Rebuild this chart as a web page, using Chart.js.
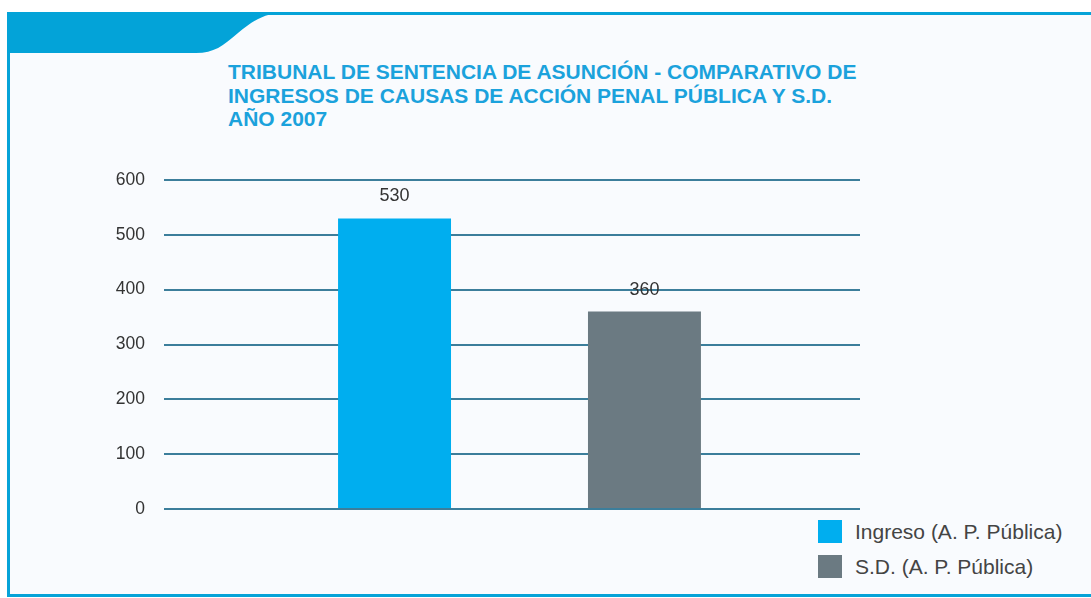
<!DOCTYPE html>
<html>
<head>
<meta charset="utf-8">
<script src="https://cdn.jsdelivr.net/npm/chart.js@4"></script>
<style>
  html, body { margin: 0; padding: 0; background: #fff; }
  #wrap { position: relative; width: 1091px; height: 598px; overflow: hidden; }
  #frame { position: absolute; left: 0; top: 0; }
  #title {
    position: absolute; left: 228px; top: 60px;
    font-family: "Liberation Sans", Arial, sans-serif; font-weight: bold;
    font-size: 21px; line-height: 23.5px; color: #1ba2dc;
  }
  #legend {
    position: absolute; left: 818px; top: 520px;
    font-family: "Liberation Sans", Arial, sans-serif; font-size: 21px; color: #444;
  }
  #legend .item { height: 35px; display: flex; align-items: flex-start; }
  #legend .box { width: 24px; height: 23px; margin-right: 13px; }
  #legend .txt { line-height: 24px; }
  canvas { position: absolute; left: 0; top: 0; }
</style>
</head>
<body>
<div id="wrap">
  <svg id="frame" width="1091" height="598">
    <rect x="8.5" y="13.5" width="1100" height="582" fill="#f9fbfe" stroke="#06a3d8" stroke-width="3"/>
    <path d="M7,12 H292 C264,12 253,21 238,33 C223,46 214,53 196,53 H7 Z" fill="#03a3d8"/>
  </svg>
  <div id="title">TRIBUNAL DE SENTENCIA DE ASUNCIÓN - COMPARATIVO DE<br>INGRESOS DE CAUSAS DE ACCIÓN PENAL PÚBLICA Y S.D.<br>AÑO 2007</div>
  <div id="legend"></div>
  <canvas id="chart" width="1091" height="598"></canvas>
</div>
<script>
// data
const categories = [''];
const seriesNames = ['Ingreso (A. P. Pública)', 'S.D. (A. P. Pública)'];
const ingresoValues = [530];
const sdValues = [360];
const yTicks = [0, 100, 200, 300, 400, 500, 600];
const colors = ['#00aeef', '#6b7a82'];

// value labels above bars
const valueLabels = {
    id: 'valueLabels',
    afterDatasetsDraw(chart) {
        const ctx = chart.ctx;
        ctx.save();
        ctx.font = '18px "Liberation Sans", Arial, sans-serif';
        ctx.fillStyle = '#333';
        ctx.textAlign = 'center';
        ctx.textBaseline = 'middle';
        chart.data.datasets.forEach((ds, i) => {
            chart.getDatasetMeta(i).data.forEach((bar, j) => {
                ctx.fillText(ds.data[j], bar.x, bar.y - 22);
            });
        });
        ctx.restore();
    }
};

// the bar group sits a little right of the plot centre in the original
const shiftGroup = {
    id: 'shiftGroup',
    afterLayout(chart) {
        const x = chart.scales.x;
        x.left += 15;
        x.configure();
    }
};

const chart = new Chart(document.getElementById('chart'), {
    type: 'bar',
    data: {
        labels: categories,
        datasets: [
            { label: seriesNames[0], data: ingresoValues, backgroundColor: colors[0] },
            { label: seriesNames[1], data: sdValues, backgroundColor: colors[1] }
        ]
    },
    options: {
        responsive: false,
        animation: false,
        categoryPercentage: 0.734,
        barPercentage: 0.452,
        layout: { padding: { left: 0, right: 231, top: 180, bottom: 89 } },
        plugins: {
            legend: { display: false },
            tooltip: { enabled: false }
        },
        scales: {
            x: { display: false },
            y: {
                z: 1,
                min: yTicks[0],
                max: yTicks[yTicks.length - 1],
                afterFit: (scale) => { scale.width = 164; },
                afterBuildTicks: (scale) => { scale.ticks = yTicks.map(v => ({ value: v })); },
                border: { display: false },
                grid: { color: '#3c7e9b', lineWidth: 2, drawTicks: false },
                ticks: {
                    padding: 19,
                    color: '#333',
                    font: { family: '"Liberation Sans", Arial, sans-serif', size: 17.5 }
                }
            }
        }
    },
    plugins: [valueLabels, shiftGroup]
});

// legend built from the datasets
const legend = document.getElementById('legend');
chart.data.datasets.forEach(ds => {
    const item = document.createElement('div');
    item.className = 'item';
    item.innerHTML = '<div class="box" style="background:' + ds.backgroundColor + '"></div><div class="txt">' + ds.label + '</div>';
    legend.appendChild(item);
});
</script>
</body>
</html>
